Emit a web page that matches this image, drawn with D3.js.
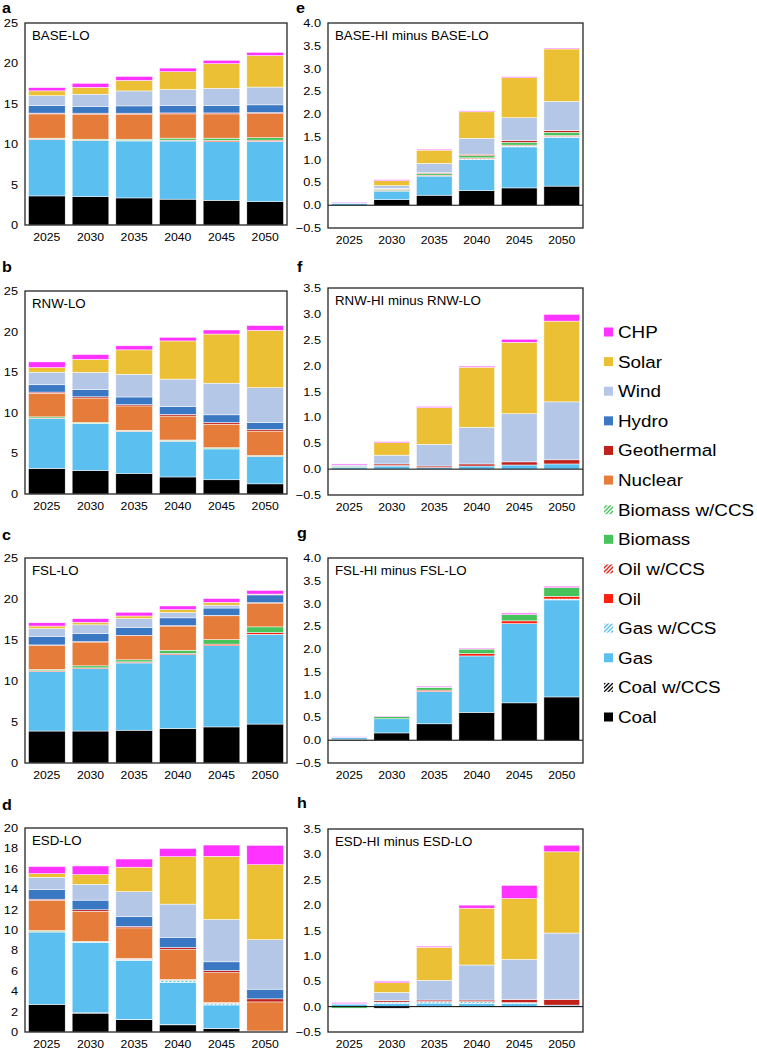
<!DOCTYPE html>
<html><head><meta charset="utf-8">
<script src="https://cdn.jsdelivr.net/npm/d3@7"></script>
<style>body{margin:0;background:#fff} svg{display:block;font-family:"Liberation Sans",Arial,sans-serif}</style>
</head><body><svg id="c" width="757" height="1050"></svg>
<script>
const years = ["2025","2030","2035","2040","2045","2050"];
const techs = ["Coal","Coal w/CCS","Gas","Gas w/CCS","Oil","Oil w/CCS","Biomass","Biomass w/CCS","Nuclear","Geothermal","Hydro","Wind","Solar","CHP"];
const techColors = ["#000000","#000000","#5bbfef","#5bbfef","#ff2010","#e0201a","#46c35a","#46c35a","#e67c3a","#c0211a","#3a78c4","#b4c7e7","#ebc034","#ff33ff"];
const techHatched = [false,true,false,true,false,true,false,true,false,false,false,false,false,false];

const leftTicks = [0,5,10,15,20,25];
const esdTicks = [0,2,4,6,8,10,12,14,16,18,20];
const diffTicks4 = [-0.5,0,0.5,1,1.5,2,2.5,3,3.5,4];
const diffTicks35 = [-0.5,0,0.5,1,1.5,2,2.5,3,3.5];

// panel a: BASE-LO
const baseLO = {
  "Coal":[3.6,3.5,3.35,3.2,3.05,2.9],
  "Gas":[7.0,6.95,7.05,7.2,7.25,7.45],
  "Oil":[0.05,0.05,0.07,0.1,0.15,0.15],
  "Biomass":[0.1,0.12,0.15,0.25,0.3,0.3],
  "Nuclear":[3.0,3.1,3.1,3.0,3.0,3.0],
  "Geothermal":[0.1,0.12,0.12,0.12,0.12,0.12],
  "Hydro":[0.95,0.85,0.9,0.95,0.9,0.95],
  "Wind":[1.2,1.5,1.85,1.95,2.15,2.2],
  "Solar":[0.6,0.85,1.3,2.2,3.05,3.9],
  "CHP":[0.4,0.5,0.5,0.45,0.42,0.4]
};
// panel b: RNW-LO
const rnwLO = {
  "Coal":[3.15,2.9,2.55,2.1,1.75,1.25],
  "Gas":[6.15,5.75,5.15,4.4,3.8,3.35],
  "Oil":[0.05,0.05,0.05,0.05,0.05,0.05],
  "Biomass":[0.15,0.12,0.1,0.1,0.1,0.1],
  "Nuclear":[2.9,3.0,3.0,2.95,2.9,3.0],
  "Geothermal":[0.15,0.15,0.15,0.2,0.2,0.2],
  "Hydro":[0.9,0.9,0.95,0.95,0.95,0.85],
  "Wind":[1.55,2.1,2.8,3.4,3.9,4.3],
  "Solar":[0.57,1.6,3.0,4.7,6.05,7.05],
  "CHP":[0.7,0.6,0.5,0.45,0.5,0.6]
};
// panel c: FSL-LO
const fslLO = {
  "Coal":[3.9,3.9,4.0,4.2,4.4,4.75],
  "Gas":[7.25,7.6,8.2,9.0,9.9,10.95],
  "Gas w/CCS":[0,0,0.03,0,0,0],
  "Oil":[0.1,0.1,0.1,0.15,0.2,0.2],
  "Biomass":[0.15,0.25,0.25,0.4,0.55,0.7],
  "Nuclear":[2.95,2.9,2.95,2.95,2.9,2.9],
  "Geothermal":[0.05,0.05,0.05,0.05,0.05,0.05],
  "Hydro":[1.0,1.0,0.95,0.95,0.9,0.95],
  "Wind":[1.0,1.05,1.1,0.65,0.35,0.05],
  "Solar":[0.3,0.3,0.3,0.35,0.35,0.05],
  "CHP":[0.4,0.45,0.45,0.45,0.45,0.45]
};
// panel d: ESD-LO
const esdLO = {
  "Coal":[2.7,1.85,1.2,0.7,0.33,0.02],
  "Coal w/CCS":[0,0.03,0.03,0.03,0.02,0],
  "Gas":[7.1,6.9,5.8,4.15,2.3,0.05],
  "Gas w/CCS":[0,0.05,0.1,0.15,0.15,0.03],
  "Oil":[0.05,0.02,0.03,0.03,0.03,0],
  "Biomass":[0.1,0.03,0.05,0.05,0.03,0],
  "Biomass w/CCS":[0,0,0,0.03,0.02,0],
  "Nuclear":[2.95,2.95,3.0,2.95,2.95,2.85],
  "Geothermal":[0.12,0.15,0.15,0.2,0.2,0.3],
  "Hydro":[0.95,0.95,0.95,1.0,0.85,0.95],
  "Wind":[1.2,1.55,2.45,3.25,4.15,4.85],
  "Solar":[0.35,0.95,2.4,4.65,6.2,7.35],
  "CHP":[0.7,0.85,0.8,0.8,1.1,1.9]
};
// panel e: BASE-HI minus BASE-LO
const baseDiff = {
  "Coal":[0,0.12,0.22,0.32,0.38,0.42],
  "Gas":[0.04,0.19,0.42,0.68,0.9,1.07],
  "Gas w/CCS":[0,0,0,0.02,0.02,0.02],
  "Oil":[0,0.01,0.02,0.02,0.02,0.02],
  "Biomass":[0,0.02,0.04,0.05,0.06,0.07],
  "Nuclear":[0,0.01,0,0,0,0],
  "Geothermal":[0,0.01,0.02,0.03,0.04,0.04],
  "Hydro":[0,0.01,0,0,0,0],
  "Wind":[0.02,0.06,0.2,0.35,0.5,0.64],
  "Solar":[0,0.11,0.29,0.58,0.88,1.15],
  "CHP":[0.01,0.02,0.02,0.02,0.02,0.02]
};
// panel f: RNW-HI minus RNW-LO
const rnwDiff = {
  "Gas":[0.03,0.06,0.03,0.06,0.08,0.1],
  "Oil":[0,0.01,0,0,0,0],
  "Biomass":[0.02,0,0,0,0,0],
  "Geothermal":[0,0.03,0.03,0.04,0.06,0.08],
  "Hydro":[0.01,0,0,0,0,0],
  "Wind":[0.02,0.17,0.42,0.71,0.93,1.12],
  "Solar":[0,0.24,0.71,1.16,1.38,1.56],
  "CHP":[0.02,0.02,0.02,0.02,0.06,0.13]
};
// panel g: FSL-HI minus FSL-LO
const fslDiff = {
  "Coal":[0.02,0.16,0.36,0.61,0.82,0.95],
  "Gas":[0.04,0.31,0.71,1.24,1.74,2.13],
  "Gas w/CCS":[0,0,0,0,0,0.02],
  "Oil":[0,0,0.03,0.05,0.06,0.06],
  "Biomass":[0,0.05,0.06,0.1,0.14,0.19],
  "Wind":[0.01,0,0.01,0,0,0],
  "CHP":[0.01,0.01,0.02,0.02,0.03,0.03]
};
// panel h: ESD-HI minus ESD-LO
const esdDiff = {
  "Coal":[0,-0.03,0,0,0,0],
  "Gas":[0.05,0.06,0.07,0.06,0.06,0.03],
  "Gas w/CCS":[0,0.03,0.03,0.04,0.02,0],
  "Biomass":[-0.03,0,0,0,0,0],
  "Geothermal":[0,0.03,0.03,0.03,0.06,0.11],
  "Wind":[0.01,0.16,0.39,0.69,0.79,1.31],
  "Solar":[0,0.19,0.65,1.12,1.2,1.6],
  "CHP":[0.02,0.03,0.02,0.06,0.26,0.13]
};

const SX = 1.11; // horizontal text stretch of the reference
const svg = d3.select("#c");
const defs = svg.append("defs");
const pid = t => "pat-" + t.replace(/[^A-Za-z]/g, "");
techs.forEach((t, i) => {
  if (!techHatched[i]) return;
  const p = defs.append("pattern").attr("id", pid(t)).attr("patternUnits", "userSpaceOnUse")
    .attr("width", 4).attr("height", 4);
  p.append("rect").attr("width", 4).attr("height", 4).attr("fill", "#fff");
  p.append("path").attr("d", "M-1,1 l2,-2 M0,4 l4,-4 M3,5 l2,-2")
    .attr("stroke", techColors[i]).attr("stroke-width", 1.3);
});
const fillOf = t => { const i = techs.indexOf(t); return techHatched[i] ? `url(#${pid(t)})` : techColors[i]; };

function txt(g, x, y, s, size, anchor, weight) {
  return g.append("text").attr("transform", `translate(${x},${y}) scale(${SX},1)`)
    .attr("font-size", size).attr("text-anchor", anchor || "start")
    .attr("font-weight", weight || "normal").attr("fill", "#000").text(s);
}

const panels = [
  {L:"a", title:"BASE-LO", data:baseLO, dom:[0,25], ticks:leftTicks, fmt:d3.format("d"), x0:25, x1:287, top:23, bot:225, lx:2, ly:13},
  {L:"b", title:"RNW-LO", data:rnwLO, dom:[0,25], ticks:leftTicks, fmt:d3.format("d"), x0:25, x1:287, top:291, bot:494, lx:2, ly:272},
  {L:"c", title:"FSL-LO", data:fslLO, dom:[0,25], ticks:leftTicks, fmt:d3.format("d"), x0:25, x1:287, top:558, bot:763, lx:2, ly:540},
  {L:"d", title:"ESD-LO", data:esdLO, dom:[0,20], ticks:esdTicks, fmt:d3.format("d"), x0:25, x1:287, top:828, bot:1032, lx:2, ly:810},
  {L:"e", title:"BASE-HI minus BASE-LO", data:baseDiff, dom:[-0.5,4], ticks:diffTicks4, fmt:d3.format(".1f"), x0:328, x1:583, top:23, bot:228, lx:296, ly:13},
  {L:"f", title:"RNW-HI minus RNW-LO", data:rnwDiff, dom:[-0.5,3.5], ticks:diffTicks35, fmt:d3.format(".1f"), x0:328, x1:583, top:288, bot:495, lx:297, ly:272},
  {L:"g", title:"FSL-HI minus FSL-LO", data:fslDiff, dom:[-0.5,4], ticks:diffTicks4, fmt:d3.format(".1f"), x0:328, x1:583, top:558, bot:763, lx:297, ly:538},
  {L:"h", title:"ESD-HI minus ESD-LO", data:esdDiff, dom:[-0.5,3.5], ticks:diffTicks35, fmt:d3.format(".1f"), x0:328, x1:583, top:829, bot:1032, lx:297, ly:808}
];

panels.forEach(P => {
  const g = svg.append("g");
  const x = d3.scaleBand().domain(years).range([P.x0, P.x1]).paddingInner(0.16).paddingOuter(0.08);
  const y = d3.scaleLinear().domain(P.dom).range([P.bot, P.top]);
  const rows = years.map((yr, i) => {
    const r = {year: yr};
    techs.forEach(t => { r[t] = P.data[t] ? P.data[t][i] : 0; });
    return r;
  });
  const series = d3.stack().keys(techs).offset(d3.stackOffsetDiverging)(rows);
  series.forEach(s => {
    g.append("g").selectAll("rect").data(s.filter(d => Math.abs(d[1] - d[0]) > 1e-9)).join("rect")
      .attr("x", d => x(d.data.year)).attr("width", x.bandwidth())
      .attr("y", d => y(Math.max(d[0], d[1])))
      .attr("height", d => Math.abs(y(d[0]) - y(d[1])))
      .attr("fill", fillOf(s.key)).attr("stroke", "#fff").attr("stroke-width", 0.5);
  });
  if (P.dom[0] < 0) {
    g.append("line").attr("x1", P.x0).attr("x2", P.x1).attr("y1", y(0)).attr("y2", y(0))
      .attr("stroke", "#000").attr("stroke-width", 1);
  }
  g.append("rect").attr("x", P.x0).attr("y", P.top).attr("width", P.x1 - P.x0).attr("height", P.bot - P.top)
    .attr("fill", "none").attr("stroke", "#262626").attr("stroke-width", 1.3);
  P.ticks.forEach(v => txt(g, P.x0 - 7, y(v) + 4, P.fmt(v), 11.5, "end"));
  years.forEach(yr => txt(g, x(yr) + x.bandwidth() / 2, P.bot + 16, yr, 11, "middle"));
  txt(g, P.x0 + 7, P.top + 17, P.title, 12);
  txt(g, P.lx, P.ly, P.L, 14.5, "start", "bold");
});

// legend
const lg = svg.append("g");
const legendItems = techs.slice().reverse();
const ly = d3.scalePoint().domain(legendItems).range([332, 717]);
legendItems.forEach(t => {
  lg.append("rect").attr("x", 604).attr("y", ly(t) - 4.5).attr("width", 9).attr("height", 9).attr("fill", fillOf(t));
  txt(lg, 618, ly(t) + 6, t, 17);
});
</script></body></html>
